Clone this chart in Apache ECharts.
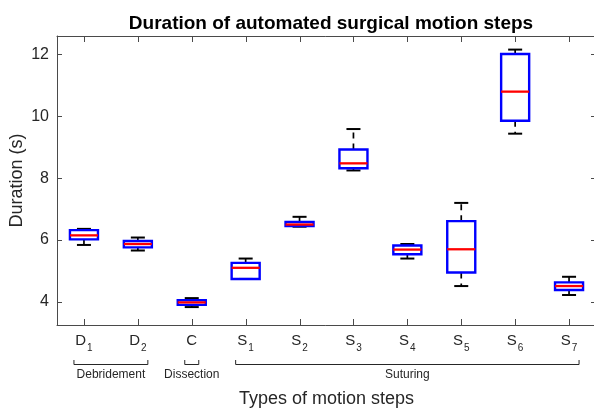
<!DOCTYPE html>
<html>
<head>
<meta charset="utf-8">
<script src="https://cdn.jsdelivr.net/npm/echarts@6/dist/echarts.min.js"></script>
<style>
html, body { margin: 0; padding: 0; background: #fff; }
#chartmain { width: 594px; height: 413px; }
</style>
</head>
<body>
<div id="chartmain"></div>
<script>
// box statistics (seconds)
var categories = ['D1', 'D2', 'C', 'S1', 'S2', 'S3', 'S4', 'S5', 'S6', 'S7'];
var lowWhisker = [5.84, 5.66, 3.83, 4.74, 6.43, 8.25, 5.40, 4.51, 9.44, 4.22];
var q1 = [6.02, 5.76, 3.90, 4.74, 6.45, 8.32, 5.54, 4.95, 9.86, 4.38];
var median = [6.15, 5.87, 3.98, 5.10, 6.50, 8.48, 5.69, 5.70, 10.80, 4.51];
var q3 = [6.32, 5.97, 4.05, 5.26, 6.58, 8.93, 5.82, 6.61, 12.02, 4.63];
var highWhisker = [6.36, 6.08, 4.12, 5.40, 6.75, 9.59, 5.87, 7.20, 12.16, 4.81];
var yTicks = [4, 6, 8, 10, 12];
var yMin = 3.25, yMax = 12.6;

// groups under the axis
var groupNames = ['Debridement', 'Dissection', 'Suturing'];
var groupFirst = [0, 2, 3];
var groupLast = [1, 2, 9];

var textColor = '#262626';
var axisColor = '#4a4a4a';
var font = 'Liberation Sans, Arial, Helvetica, sans-serif';

var boxData = [];
for (var i = 0; i < categories.length; i++) {
	boxData.push([i, lowWhisker[i], q1[i], median[i], q3[i], highWhisker[i]]);
}

function renderBox(params, api) {
	var idx = api.value(0);
	var band = api.size([1, 0])[0];
	var half = band * 0.26;
	var capHalf = band * 0.13;
	var pLow = api.coord([idx, api.value(1)]);
	var pQ1 = api.coord([idx, api.value(2)]);
	var pMed = api.coord([idx, api.value(3)]);
	var pQ3 = api.coord([idx, api.value(4)]);
	var pHigh = api.coord([idx, api.value(5)]);
	var cx = pMed[0];
	var yBottom = api.coord([idx, yMin])[1];
	var yTop = api.coord([idx, yMax])[1];
	var tx = Math.round(cx) + 0.5;
	var whisker = { stroke: '#000', lineWidth: 1.7, lineDash: [6, 5] };
	var cap = { stroke: '#000', lineWidth: 2 };
	var tick = { stroke: axisColor, lineWidth: 1 };
	return {
		type: 'group',
		children: [
			// inward ticks on bottom and top edges (MATLAB box style)
			{ type: 'line', shape: { x1: tx, y1: yBottom, x2: tx, y2: yBottom - 6 }, style: tick },
			{ type: 'line', shape: { x1: tx, y1: yTop, x2: tx, y2: yTop + 6 }, style: tick },
			{ type: 'line', shape: { x1: cx, y1: pQ3[1], x2: cx, y2: pHigh[1] }, style: whisker },
			{ type: 'line', shape: { x1: cx, y1: pQ1[1], x2: cx, y2: pLow[1] }, style: whisker },
			{ type: 'line', shape: { x1: cx - capHalf, y1: pHigh[1], x2: cx + capHalf, y2: pHigh[1] }, style: cap },
			{ type: 'line', shape: { x1: cx - capHalf, y1: pLow[1], x2: cx + capHalf, y2: pLow[1] }, style: cap },
			{ type: 'rect', shape: { x: cx - half, y: pQ3[1], width: half * 2, height: pQ1[1] - pQ3[1] },
				style: { fill: 'none', stroke: '#0000ff', lineWidth: 2.4 } },
			{ type: 'line', shape: { x1: cx - half, y1: pMed[1], x2: cx + half, y2: pMed[1] },
				style: { stroke: '#ff0000', lineWidth: 2.3 } }
		]
	};
}

function xLabel(value) {
	var main = value.charAt(0);
	var sub = value.substring(1);
	if (sub === '') return '{c|' + main + '}';
	return '{m|' + main + '}{s|' + sub + '}';
}

var option = {
	animation: false,
	textStyle: { fontFamily: font },
	title: {
		text: 'Duration of automated surgical motion steps',
		left: 326,
		textAlign: 'center',
		top: 9,
		textStyle: { fontSize: 19, fontWeight: 'bold', color: '#000', fontFamily: font }
	},
	grid: { left: 57, right: -2, top: 36, bottom: 88, outerBoundsMode: 'none', containLabel: false },
	xAxis: [{
		type: 'category',
		data: categories,
		position: 'bottom',
		name: 'Types of motion steps',
		nameLocation: 'middle',
		nameGap: 65,
		nameMoveOverlap: false,
		nameTextStyle: { fontSize: 18, color: textColor, fontFamily: font },
		axisLine: { lineStyle: { color: axisColor, width: 1 } },
		axisTick: { show: false },
		axisLabel: {
			interval: 0,
			margin: 8,
			color: textColor,
			formatter: xLabel,
			rich: {
				m: { fontSize: 15, lineHeight: 16, color: textColor, fontFamily: font },
				s: { fontSize: 10, lineHeight: 10, padding: [14, 0, 0, 1], color: textColor, fontFamily: font },
				c: { fontSize: 15, lineHeight: 16, padding: [4, 0, 4, 0], color: textColor, fontFamily: font }
			}
		},
		splitLine: { show: false }
	}, {
		type: 'category',
		data: categories,
		position: 'top',
		axisLine: { lineStyle: { color: axisColor, width: 1 } },
		axisTick: { show: false },
		axisLabel: { show: false },
		splitLine: { show: false }
	}],
	yAxis: [{
		type: 'value',
		min: yMin,
		max: yMax,
		position: 'left',
		name: 'Duration (s)',
		nameLocation: 'middle',
		nameGap: 31,
		nameMoveOverlap: false,
		nameTextStyle: { fontSize: 18, color: textColor, fontFamily: font },
		axisLine: { show: true, lineStyle: { color: axisColor, width: 1 } },
		axisTick: { show: true, inside: true, length: 5, customValues: yTicks, lineStyle: { color: axisColor } },
		axisLabel: { fontSize: 16, color: textColor, margin: 8, customValues: yTicks },
		splitLine: { show: false }
	}, {
		type: 'value',
		min: yMin,
		max: yMax,
		position: 'right',
		axisLine: { show: true, lineStyle: { color: axisColor, width: 1 } },
		axisTick: { show: true, inside: true, length: 5, customValues: yTicks, lineStyle: { color: axisColor } },
		axisLabel: { show: false, customValues: yTicks },
		splitLine: { show: false }
	}],
	series: [{
		type: 'custom',
		renderItem: renderBox,
		encode: { x: 0, y: [1, 2, 3, 4, 5] },
		data: boxData,
		clip: false
	}]
};

var myChart = echarts.init(document.getElementById('chartmain'));
myChart.setOption(option);

// brackets and group names under the tick labels
var graphics = [];
var bracketY = 364.5;
for (var g = 0; g < groupNames.length; g++) {
	var x1 = myChart.convertToPixel({ xAxisIndex: 0 }, categories[groupFirst[g]]);
	var x2 = myChart.convertToPixel({ xAxisIndex: 0 }, categories[groupLast[g]]);
	var pad = groupFirst[g] === groupLast[g] ? 7 : 10;
	graphics.push({
		type: 'polyline',
		shape: { points: [[x1 - pad, bracketY - 4.5], [x1 - pad, bracketY], [x2 + pad, bracketY], [x2 + pad, bracketY - 4.5]] },
		style: { stroke: textColor, lineWidth: 1, fill: 'none' },
		silent: true
	});
	graphics.push({
		type: 'text',
		x: (x1 + x2) / 2,
		y: 375,
		style: { text: groupNames[g], fontSize: 12, fill: textColor, fontFamily: font, align: 'center', verticalAlign: 'middle' },
		silent: true
	});
}
myChart.setOption({ graphic: graphics });
</script>
</body>
</html>
